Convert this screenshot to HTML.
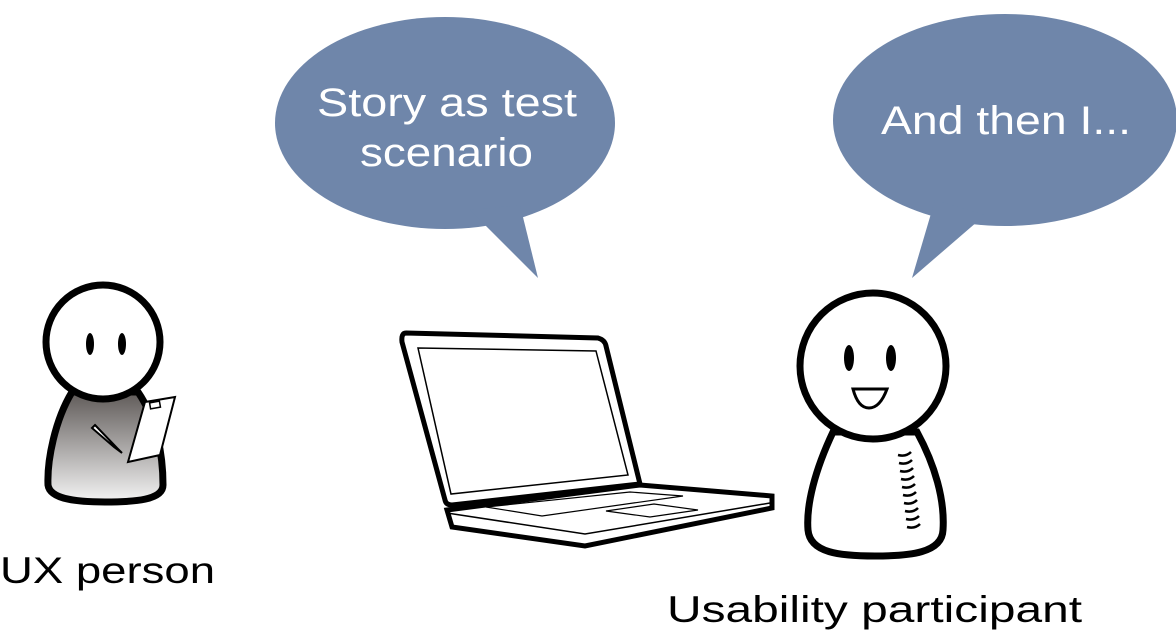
<!DOCTYPE html>
<html><head><meta charset="utf-8"><style>
html,body{margin:0;padding:0;background:#fff;width:1176px;height:634px;overflow:hidden}
svg{display:block}
text{font-family:"Liberation Sans",sans-serif}
</style></head><body>
<svg width="1176" height="634" viewBox="0 0 1176 634">
<defs>
<linearGradient id="g" x1="0" y1="0" x2="0" y2="1">
<stop offset="0" stop-color="#5f5a58"/><stop offset="1" stop-color="#f4f4f4"/>
</linearGradient>
</defs>
<ellipse cx="445" cy="123" rx="170" ry="106" fill="#6f86aa"/>
<path d="M470 210 L538 278 L520 205 Z" fill="#6f86aa"/>
<ellipse cx="1005" cy="120" rx="172" ry="106" fill="#6f86aa"/>
<path d="M935 200 L912 278 L985 215 Z" fill="#6f86aa"/>
<text x="317" y="116" font-size="40" fill="#fff" textLength="260" lengthAdjust="spacingAndGlyphs">Story as test</text>
<text x="360" y="166" font-size="40" fill="#fff" textLength="173" lengthAdjust="spacingAndGlyphs">scenario</text>
<text x="881" y="134" font-size="40" fill="#fff" textLength="250" lengthAdjust="spacingAndGlyphs">And then I...</text>
<path d="M72 392 C55 420 47 460 48 485 C50 500 80 502 105 502 C135 502 163 500 163 485 C163 455 157 420 138 392 Z" fill="url(#g)" stroke="#000" stroke-width="7"/>
<circle cx="103" cy="342" r="57" fill="#fff" stroke="#000" stroke-width="7"/>
<ellipse cx="90" cy="344" rx="4" ry="11" fill="#000"/>
<ellipse cx="122" cy="344" rx="4" ry="11" fill="#000"/>
<path d="M145 402 L175 397 L160 455 L128 462 Z" fill="#fff" stroke="#000" stroke-width="2"/>
<rect x="150" y="402" width="10" height="6" fill="#fff" stroke="#000" stroke-width="1.5" transform="rotate(-10 155 405)"/>
<path d="M95 425 L117 448 L122 453 L114 447 L92 428 Z" fill="#fff" stroke="#000" stroke-width="2"/>
<path d="M406 333 L598 338 Q605 340 606 346 L640 484 L452 505 Q446 505 445 500 L402 342 Q401 333 406 333 Z" fill="#fff" stroke="#000" stroke-width="5"/>
<path d="M418 348 L596 351 L628 475 L451 494 Z" fill="none" stroke="#000" stroke-width="1.5"/>
<path d="M447 510 L640 485 L772 496 L772 508 L585 546 L452 527 Z" fill="#fff" stroke="#000" stroke-width="5"/>
<path d="M447 513 L585 534 L770 503" fill="none" stroke="#000" stroke-width="1.5"/>
<path d="M486 507 L630 492 L683 496 L542 516 Z" fill="none" stroke="#000" stroke-width="1.2"/>
<path d="M606 511 L654 504 L698 510 L650 517 Z" fill="none" stroke="#000" stroke-width="1.2"/>
<path d="M833 432 C815 470 806 505 808 530 C810 553 840 556 875 556 C910 556 942 553 943 530 C945 500 935 465 917 432 Z" fill="#fff" stroke="#000" stroke-width="7"/>
<circle cx="873" cy="366" r="73" fill="#fff" stroke="#000" stroke-width="7"/>
<ellipse cx="849" cy="358" rx="5" ry="13" fill="#000"/>
<ellipse cx="891" cy="358" rx="5" ry="13" fill="#000"/>
<path d="M853 389 L887 389 Q880 408 869 408 Q858 408 853 389 Z" fill="#fff" stroke="#000" stroke-width="3"/>
<g stroke="#000" stroke-width="2.5" fill="none">
<path d="M898 455 q8 2 13 -3"/><path d="M899 463 q8 2 13 -3"/><path d="M900 471 q8 2 13 -3"/><path d="M901 479 q8 2 13 -3"/><path d="M902 487 q8 2 13 -3"/><path d="M903 495 q8 2 13 -3"/><path d="M904 503 q8 2 13 -3"/><path d="M905 511 q8 2 13 -3"/><path d="M906 519 q8 2 13 -3"/><path d="M907 527 q8 2 13 -3"/>
</g>
<text x="0" y="583" font-size="37" fill="#000" textLength="215" lengthAdjust="spacingAndGlyphs">UX person</text>
<text x="667" y="622" font-size="37" fill="#000" textLength="415" lengthAdjust="spacingAndGlyphs">Usability participant</text>
</svg>
</body></html>
